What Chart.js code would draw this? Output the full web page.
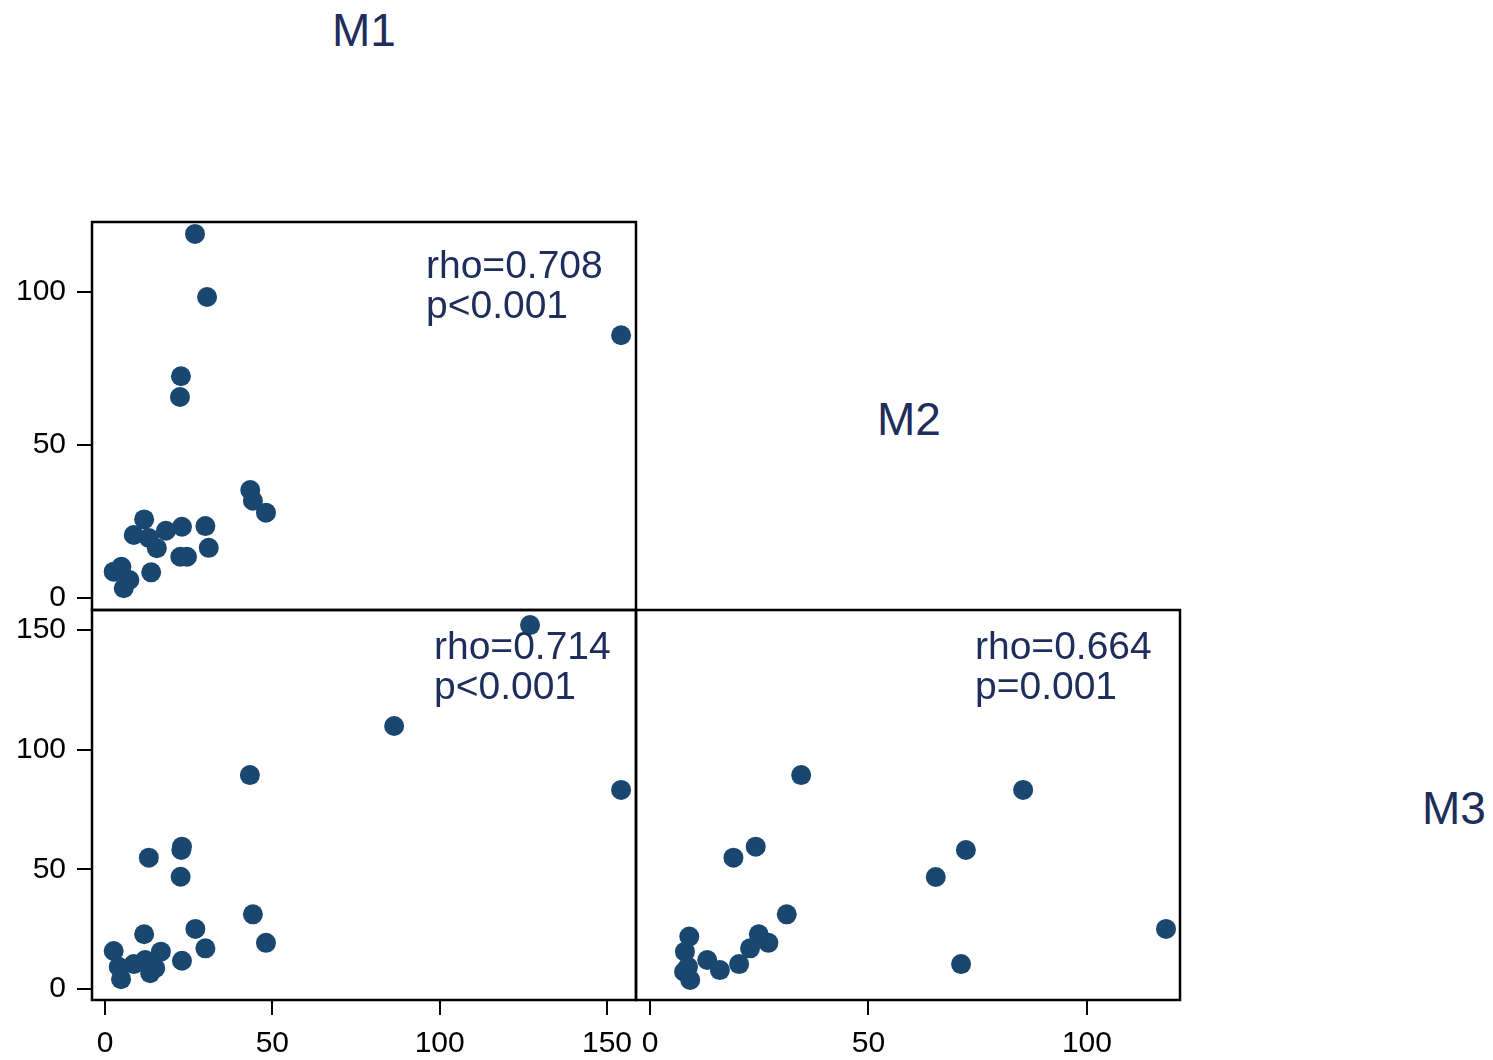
<!DOCTYPE html>
<html>
<head>
<meta charset="utf-8">
<script src="https://cdn.jsdelivr.net/npm/chart.js@4.4.0/dist/chart.umd.min.js"></script>
<style>
  body { margin:0; background:#fff; width:1493px; height:1060px; overflow:hidden; position:relative;
         font-family:"Liberation Sans", Arial, sans-serif; }
  canvas { position:absolute; }
  .diag { position:absolute; font-size:46px; color:#1e2d5c; transform:translate(-50%,-50%); white-space:nowrap; }
</style>
</head>
<body>
<canvas id="c12" width="650" height="408" style="left:0;top:212px"></canvas>
<canvas id="c13" width="650" height="460" style="left:0;top:600px"></canvas>
<canvas id="c23" width="564" height="460" style="left:626px;top:600px"></canvas>
<div class="diag" style="left:364px;top:30px">M1</div>
<div class="diag" style="left:909px;top:419px">M2</div>
<div class="diag" style="left:1454px;top:808px">M3</div>

<script>
// ---- data ----
const M1_TICKS = [0, 50, 100, 150];
const M2_TICKS = [0, 50, 100];
const M3_TICKS = [0, 50, 100, 150];

// M2 (y) against M1 (x)
const p12_m1 = [26.9, 30.5, 22.7, 22.4, 154.2, 43.4, 44.2, 48.1, 11.7, 8.6, 13.1, 15.5,
                18.2, 23.0, 30.0, 31.0, 22.5, 24.5, 13.8, 2.6, 4.9, 7.3, 5.6];
const p12_m2 = [119.0, 98.4, 72.5, 65.7, 85.9, 35.3, 31.8, 27.9, 25.7, 20.6, 19.6, 16.3,
                22.0, 23.3, 23.5, 16.4, 13.5, 13.5, 8.4, 8.6, 10.2, 5.9, 3.2];

// M3 (y) against M1 (x)
const p13_m1 = [127.0, 86.4, 43.3, 154.2, 13.1, 22.8, 23.0, 22.6, 44.2, 27.0, 48.1, 30.0,
                11.7, 2.6, 23.0, 16.7, 4.1, 8.6, 12.0, 15.0, 13.5, 4.8];
const p13_m3 = [152.1, 109.9, 89.4, 83.2, 54.9, 58.1, 59.5, 46.9, 31.2, 25.1, 19.3, 17.0,
                22.9, 15.9, 11.8, 15.6, 9.3, 10.4, 12.1, 8.7, 6.6, 4.1];

// M3 (y) against M2 (x)
const p23_m2 = [34.6, 85.4, 72.3, 65.4, 24.2, 19.1, 118.1, 31.3, 71.2, 9.0, 8.0, 7.8, 9.2,
                8.7, 13.1, 16.0, 20.4, 22.9, 24.9, 27.1];
const p23_m3 = [89.4, 83.2, 58.1, 46.8, 59.5, 54.9, 25.1, 31.2, 10.4, 21.9, 15.6, 7.2, 3.8,
                9.3, 12.1, 7.9, 10.4, 17.0, 22.9, 19.3];

const NAVY = '#1a476f';
const TEXT_COLOR = '#1e2d5c';
const FONT = '"Liberation Sans", Arial, sans-serif';

function axis(min, max, ticks, show, size) {
  return {
    type: 'linear', min: min, max: max, display: show,
    afterBuildTicks: s => { s.ticks = ticks.map(v => ({ value: v })); },
    afterFit: s => {
      if (s.isHorizontal()) s.height = size; else s.width = size;
      // keep the plot region exactly where the padding puts it
      s.paddingTop = 0; s.paddingBottom = 0; s.paddingLeft = 0; s.paddingRight = 0;
    },
    grid: { drawOnChartArea: false, drawTicks: true, tickLength: 15, color: '#000', lineWidth: 2 },
    border: { display: false },
    ticks: { font: { size: 30, family: FONT }, color: '#000', padding: 11, maxRotation: 0, autoSkip: false }
  };
}

// frame round the plot region + rho / p text
function framePlugin(lines, dx, dy) {
  return {
    id: 'frame',
    afterDraw(chart) {
      const ctx = chart.ctx, a = chart.chartArea;
      ctx.save();
      ctx.strokeStyle = '#000';
      ctx.lineWidth = 2.5;
      ctx.strokeRect(a.left, a.top, a.right - a.left, a.bottom - a.top);
      ctx.fillStyle = TEXT_COLOR;
      ctx.font = '39px ' + FONT;
      ctx.textBaseline = 'middle';
      ctx.textAlign = 'left';
      lines.forEach((t, i) => ctx.fillText(t, a.left + dx, a.top + dy + i * 40));
      ctx.restore();
    }
  };
}

function panel(id, xs, ys, xAxis, yAxis, padding, lines, dx, dy) {
  new Chart(document.getElementById(id), {
    type: 'scatter',
    data: { datasets: [{
      data: xs.map((x, i) => ({ x: x, y: ys[i] })),
      backgroundColor: NAVY, borderWidth: 0, pointRadius: 10, pointHoverRadius: 10
    }]},
    options: {
      responsive: false, animation: false,
      layout: { padding: padding },
      plugins: { legend: { display: false }, tooltip: { enabled: false } },
      scales: { x: xAxis, y: yAxis }
    },
    plugins: [framePlugin(lines, dx, dy)]
  });
}

panel('c12', p12_m1, p12_m2,
  axis(-3.88, 158.66, M1_TICKS, false, 0),
  axis(-3.92, 122.9, M2_TICKS, true, 92),
  { top: 10, right: 14, bottom: 10, left: 0 },
  ['rho=0.708', 'p<0.001'], 334, 45);

panel('c13', p13_m1, p13_m3,
  axis(-3.88, 158.66, M1_TICKS, true, 60),
  axis(-4.6, 158.4, M3_TICKS, true, 92),
  { top: 10, right: 14, bottom: 0, left: 0 },
  ['rho=0.714', 'p<0.001'], 342, 38);

panel('c23', p23_m2, p23_m3,
  axis(-3.2, 121.3, M2_TICKS, true, 60),
  axis(-4.6, 158.4, M3_TICKS, false, 0),
  { top: 10, right: 10, bottom: 0, left: 10 },
  ['rho=0.664', 'p=0.001'], 339, 38);
</script>
</body>
</html>
